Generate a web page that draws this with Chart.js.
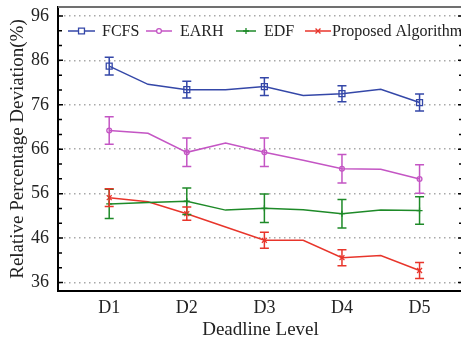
<!DOCTYPE html>
<html>
<head>
<meta charset="utf-8">
<title>Relative Percentage Deviation vs Deadline Level</title>
<script src="https://cdn.jsdelivr.net/npm/chart.js"></script>
<style>
  html, body { margin: 0; padding: 0; background: #fff; overflow: hidden; }
  #wrap { width: 461px; height: 341px; overflow: hidden; }
</style>
</head>
<body>
<div id="wrap"><canvas id="rpdChart" width="480" height="341"></canvas></div>
<script>
// deadline levels (markers sit on these), line points also at the half steps
const levels = ['D1', 'D2', 'D3', 'D4', 'D5'];
const xPos = [1, 1.5, 2, 2.5, 3, 3.5, 4, 4.5, 5];

const fcfs     = [84.7, 80.6, 79.4, 79.4, 80.1, 78.1, 78.5, 79.5, 76.5];
const earh     = [70.2, 69.6, 65.3, 67.4, 65.3, 63.5, 61.6, 61.5, 59.3];
const edf      = [53.7, 54.0, 54.3, 52.3, 52.7, 52.4, 51.5, 52.3, 52.2];
const proposed = [55.1, 54.2, 51.5, 48.5, 45.5, 45.5, 41.6, 42.1, 38.7];

// error bar half-widths at D1..D5
const fcfsErr     = [2.0, 1.9, 2.0, 1.8, 1.9];
const earhErr     = [3.1, 3.2, 3.2, 3.2, 3.2];
const edfErr      = [3.3, 3.0, 3.2, 3.2, 3.1];
const proposedErr = [2.0, 1.5, 1.8, 1.8, 1.8];

const yTickLabels = [36, 46, 56, 66, 76, 86, 96];

const serif = "'Liberation Serif', 'Times New Roman', serif";

function toPoints(vals) {
  return vals.map((v, i) => ({ x: xPos[i], y: v }));
}
function isMajor(v) {
  const r = Math.round(v);
  return Math.abs(v - r) < 1e-6 && yTickLabels.includes(r);
}

function makeSet(label, vals, errs, color, style, radius) {
  return {
    label: label,
    data: toPoints(vals),
    errors: errs,
    borderColor: color,
    backgroundColor: color,
    borderWidth: 1.5,
    pointStyle: style,
    markerSize: radius,
    pointRadius: ctx => (Number.isInteger(ctx.raw.x) ? radius : 0),
    pointBorderColor: color,
    pointBackgroundColor: 'rgba(0,0,0,0)',
    pointBorderWidth: 1.3,
    tension: 0
  };
}

// error bars from the dataset's errors array
const errorBars = {
  id: 'errorBars',
  afterDatasetsDraw(chart) {
    const { ctx, scales: { x, y } } = chart;
    ctx.save();
    chart.data.datasets.forEach(ds => {
      ctx.strokeStyle = ds.borderColor;
      ctx.lineWidth = 1.5;
      ds.errors.forEach((e, k) => {
        const pt = ds.data.find(p => p.x === k + 1);
        const px = x.getPixelForValue(pt.x);
        const top = y.getPixelForValue(pt.y + e);
        const bot = y.getPixelForValue(pt.y - e);
        ctx.beginPath();
        ctx.moveTo(px, top); ctx.lineTo(px, bot);
        ctx.moveTo(px - 4.5, top); ctx.lineTo(px + 4.5, top);
        ctx.moveTo(px - 4.5, bot); ctx.lineTo(px + 4.5, bot);
        ctx.stroke();
      });
    });
    ctx.restore();
  }
};

// inward tick marks and the grey top frame line
const frame = {
  id: 'frame',
  afterDraw(chart) {
    const { ctx, chartArea: a, scales: { y } } = chart;
    ctx.save();
    ctx.strokeStyle = '#000';
    ctx.lineWidth = 1.5;
    y.ticks.forEach(t => {
      const py = y.getPixelForValue(t.value);
      const len = isMajor(t.value) ? 5 : 4;
      ctx.beginPath();
      ctx.moveTo(a.left, py); ctx.lineTo(a.left + len, py);
      ctx.moveTo(a.right, py); ctx.lineTo(a.right - len, py);
      ctx.stroke();
    });
    ctx.strokeStyle = '#707070';
    ctx.lineWidth = 2;
    ctx.beginPath();
    ctx.moveTo(a.left, a.top); ctx.lineTo(a.right, a.top);
    ctx.stroke();
    ctx.restore();
  }
};

// legend inside the plot, one row
const legendSpots = [
  { x0: 68, x1: 95, tx: 102 },
  { x0: 146, x1: 172, tx: 180 },
  { x0: 236, x1: 256, tx: 264 },
  { x0: 305, x1: 331, tx: 332 }
];
const innerLegend = {
  id: 'innerLegend',
  afterDraw(chart) {
    const { ctx, chartArea: a } = chart;
    const ly = a.top + 24;
    ctx.save();
    chart.data.datasets.forEach((ds, i) => {
      const s = legendSpots[i];
      ctx.strokeStyle = ds.borderColor;
      ctx.lineWidth = 1.5;
      ctx.beginPath();
      ctx.moveTo(s.x0, ly); ctx.lineTo(s.x1, ly);
      ctx.stroke();
      ctx.fillStyle = '#fff';
      ctx.lineWidth = 1.3;
      Chart.helpers.drawPoint(ctx, {
        pointStyle: ds.pointStyle,
        radius: ds.markerSize,
        borderWidth: 1.3,
        rotation: 0
      }, (s.x0 + s.x1) / 2, ly);
      ctx.fillStyle = '#222';
      ctx.font = "16px " + serif;
      ctx.textBaseline = 'middle';
      ctx.fillText(ds.label, s.tx, ly + 1);
    });
    ctx.restore();
  }
};

new Chart(document.getElementById('rpdChart'), {
  type: 'line',
  data: {
    datasets: [
      makeSet('FCFS', fcfs, fcfsErr, '#3447a8', 'rect', 4.2),
      makeSet('EARH', earh, earhErr, '#c455c4', 'circle', 2.4),
      makeSet('EDF', edf, edfErr, '#1e8a28', 'cross', 3),
      makeSet('Proposed Algorithm', proposed, proposedErr, '#e8352b', 'crossRot', 3.5)
    ]
  },
  options: {
    responsive: false,
    animation: false,
    layout: { padding: { top: 7, right: 17, left: 0, bottom: 0 } },
    plugins: {
      legend: { display: false },
      tooltip: { enabled: false }
    },
    scales: {
      x: {
        type: 'linear',
        min: 0.34,
        max: 5.56,
        afterBuildTicks: scale => {
          scale.ticks = levels.map((l, i) => ({ value: i + 1 }));
        },
        afterFit: scale => {
          scale.height = 50;
          scale.paddingLeft = 0;
          scale.paddingRight = 0;
        },
        ticks: {
          autoSkip: false,
          maxRotation: 0,
          callback: v => levels[Math.round(v) - 1],
          color: '#222',
          padding: 6,
          font: { family: serif, size: 18 }
        },
        grid: { display: false, drawTicks: false },
        border: { color: '#000', width: 2 },
        title: {
          display: true,
          text: 'Deadline Level',
          color: '#222',
          padding: { top: 0, bottom: 0 },
          font: { family: serif, size: 19 }
        }
      },
      y: {
        min: 34.1,
        max: 98,
        afterBuildTicks: scale => {
          const t = [];
          for (let k = 0; k <= 18; k++) t.push({ value: 36 + k * 10 / 3 });
          scale.ticks = t;
        },
        afterFit: scale => {
          scale.width = 58;
          scale.paddingTop = 0;
          scale.paddingBottom = 0;
        },
        ticks: {
          autoSkip: false,
          callback: v => (isMajor(v) ? String(Math.round(v)) : ''),
          color: '#222',
          padding: 9,
          font: { family: serif, size: 18 }
        },
        grid: {
          drawTicks: false,
          lineWidth: 1.5,
          color: ctx => (ctx.tick && isMajor(ctx.tick.value) ? '#a8a8a8' : 'rgba(0,0,0,0)')
        },
        border: { color: '#000', width: 2, dash: [1.5, 3.5] },
        title: {
          display: true,
          text: 'Relative Percentage Deviation(%)',
          color: '#222',
          padding: { top: 7, bottom: 0 },
          font: { family: serif, size: 19 }
        }
      }
    }
  },
  plugins: [errorBars, frame, innerLegend]
});
</script>
</body>
</html>
